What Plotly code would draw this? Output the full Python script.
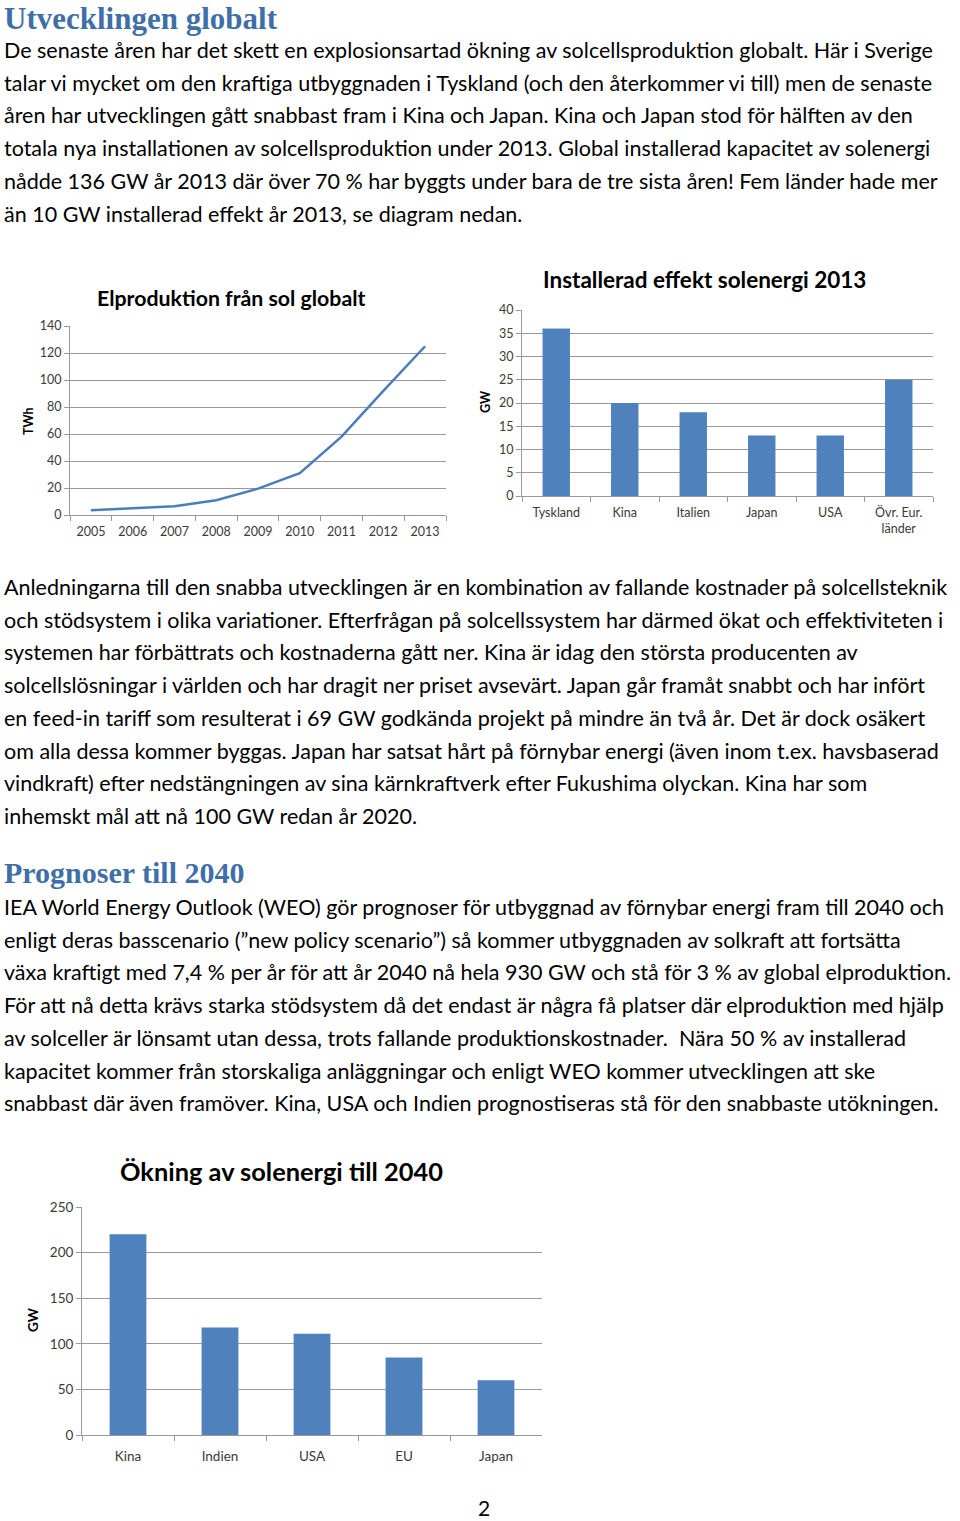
import plotly.graph_objects as go

W, H = 960, 1521

# ---------------- data ----------------
years = ["2005", "2006", "2007", "2008", "2009", "2010", "2011", "2012", "2013"]
twh = [3.5, 5, 6.5, 11, 19.5, 31, 58, 92, 125]

countries_2013 = ["Tyskland", "Kina", "Italien", "Japan", "USA", "Övr. Eur.<br>länder"]
gw_2013 = [36, 20, 18, 13, 13, 25]

regions_2040 = ["Kina", "Indien", "USA", "EU", "Japan"]
gw_2040 = [220, 118, 111, 85, 60]

heading1 = "Utvecklingen globalt"
para1 = [
    "De senaste åren har det skett en explosionsartad ökning av solcellsproduktion globalt. Här i Sverige",
    "talar vi mycket om den kraftiga utbyggnaden i Tyskland (och den återkommer vi till) men de senaste",
    "åren har utvecklingen gått snabbast fram i Kina och Japan. Kina och Japan stod för hälften av den",
    "totala nya installationen av solcellsproduktion under 2013. Global installerad kapacitet av solenergi",
    "nådde 136 GW år 2013 där över 70 % har byggts under bara de tre sista åren! Fem länder hade mer",
    "än 10 GW installerad effekt år 2013, se diagram nedan.",
]
para2 = [
    "Anledningarna till den snabba utvecklingen är en kombination av fallande kostnader på solcellsteknik",
    "och stödsystem i olika variationer. Efterfrågan på solcellssystem har därmed ökat och effektiviteten i",
    "systemen har förbättrats och kostnaderna gått ner. Kina är idag den största producenten av",
    "solcellslösningar i världen och har dragit ner priset avsevärt. Japan går framåt snabbt och har infört",
    "en feed-in tariff som resulterat i 69 GW godkända projekt på mindre än två år. Det är dock osäkert",
    "om alla dessa kommer byggas. Japan har satsat hårt på förnybar energi (även inom t.ex. havsbaserad",
    "vindkraft) efter nedstängningen av sina kärnkraftverk efter Fukushima olyckan. Kina har som",
    "inhemskt mål att nå 100 GW redan år 2020.",
]
heading2 = "Prognoser till 2040"
para3 = [
    "IEA World Energy Outlook (WEO) gör prognoser för utbyggnad av förnybar energi fram till 2040 och",
    "enligt deras basscenario (”new policy scenario”) så kommer utbyggnaden av solkraft att fortsätta",
    "växa kraftigt med 7,4 % per år för att år 2040 nå hela 930 GW och stå för 3 % av global elproduktion.",
    "För att nå detta krävs starka stödsystem då det endast är några få platser där elproduktion med hjälp",
    "av solceller är lönsamt utan dessa, trots fallande produktionskostnader.  Nära 50 % av installerad",
    "kapacitet kommer från storskaliga anläggningar och enligt WEO kommer utvecklingen att ske",
    "snabbast där även framöver. Kina, USA och Indien prognostiseras stå för den snabbaste utökningen.",
]

# ---------------- helpers ----------------
def px(x):
    return x / W

def py(y):
    return 1 - y / H

BODY_FONT = "Lato"
BODY_SIZE = 21.5
LINE_STEP = 32.7
BLUE_HEAD = "#3F6FA6"
BAR = "#4F81BD"
LINE = "#4A7EBB"
GRID = "#999999"
TICKC = "#3A3A3A"

fig = go.Figure()

fig.add_trace(go.Scatter(x=years, y=twh, mode="lines",
                         line=dict(color=LINE, width=2.5),
                         xaxis="x", yaxis="y", showlegend=False))
fig.add_trace(go.Bar(x=countries_2013, y=gw_2013, marker_color=BAR,
                     xaxis="x2", yaxis="y2", showlegend=False))
fig.add_trace(go.Bar(x=regions_2040, y=gw_2040, marker_color=BAR,
                     xaxis="x3", yaxis="y3", showlegend=False))

def tf(size):
    return dict(family=BODY_FONT, size=size, color=TICKC)

def xax(domain, anchor, n, size, standoff):
    return dict(domain=domain, anchor=anchor, type="category", automargin=False,
                range=[-0.5, n - 0.5],
                showline=True, linecolor=GRID, linewidth=1,
                ticks="outside", tickson="boundaries", ticklen=5, tickcolor=GRID,
                ticklabelstandoff=standoff,
                showgrid=False, tickfont=tf(size), fixedrange=True)

def yax(domain, anchor, rng, dtick, size):
    return dict(domain=domain, anchor=anchor, range=rng, dtick=dtick, automargin=False,
                showline=True, linecolor=GRID, linewidth=1,
                ticks="outside", ticklen=5, tickcolor=GRID,
                showgrid=True, gridcolor=GRID, gridwidth=1,
                zeroline=False, tickfont=tf(size), fixedrange=True)

fig.update_layout(
    template="none",
    width=W, height=H, autosize=False,
    margin=dict(l=0, r=0, t=0, b=0, pad=0),
    paper_bgcolor="white", plot_bgcolor="white",
    bargap=0.6,
    xaxis=xax([px(70), px(446)], "y", len(years), 12.5, 5),
    yaxis=yax([py(515), py(326)], "x", [0, 140], 20, 12.5),
    xaxis2=xax([px(522), px(933)], "y2", len(countries_2013), 12.5, 5),
    yaxis2=yax([py(496), py(310)], "x2", [0, 40], 5, 12.5),
    xaxis3=xax([px(82), px(542)], "y3", len(regions_2040), 13.5, 9),
    yaxis3=yax([py(1435), py(1207)], "x3", [0, 250], 50, 13.5),
)

ann = []

def text_line(t, x, y, size=BODY_SIZE, color="#000000", family=BODY_FONT,
              anchor="left", bold=False, yanchor="middle"):
    if bold:
        t = "<b>" + t + "</b>"
    ann.append(dict(text=t, x=px(x), y=py(y), xref="paper", yref="paper",
                    xanchor=anchor, yanchor=yanchor, showarrow=False, borderpad=0,
                    font=dict(family=family, size=size, color=color)))

# headings
text_line(heading1, 3, 0, size=31, color=BLUE_HEAD, family="Liberation Serif",
          bold=True, yanchor="top")
text_line(heading2, 3, 872, size=30, color=BLUE_HEAD, family="Liberation Serif", bold=True)

for i, t in enumerate(para1):
    text_line(t, 3, 50 + i * LINE_STEP)
for i, t in enumerate(para2):
    text_line(t, 3, 587 + i * LINE_STEP)
for i, t in enumerate(para3):
    text_line(t, 3, 907 + i * LINE_STEP)

# chart titles
text_line("Elproduktion från sol globalt", 231, 298, size=21.3, anchor="center", bold=True)
text_line("Installerad effekt solenergi 2013", 704, 279, size=22.5, anchor="center", bold=True)
text_line("Ökning av solenergi till 2040", 281, 1171, size=25.4, anchor="center", bold=True)

# axis titles
for t, x, y, s in [("TWh", 28, 421, 12.5), ("GW", 485, 402, 12.5), ("GW", 33, 1320, 13.5)]:
    ann.append(dict(text="<b>" + t + "</b>", x=px(x), y=py(y), xref="paper", yref="paper",
                    xanchor="center", yanchor="middle", showarrow=False, textangle=-90,
                    font=dict(family=BODY_FONT, size=s, color="#000000")))

# page number
text_line("2", 484, 1521, size=21, anchor="center", yanchor="bottom")

fig.update_layout(annotations=ann)

fig.write_html(
    "out.html",
    config={"displayModeBar": False, "staticPlot": True},
    post_script="document.body.style.margin='0';document.body.style.overflow='hidden';"
                "document.documentElement.style.overflow='hidden';",
)
